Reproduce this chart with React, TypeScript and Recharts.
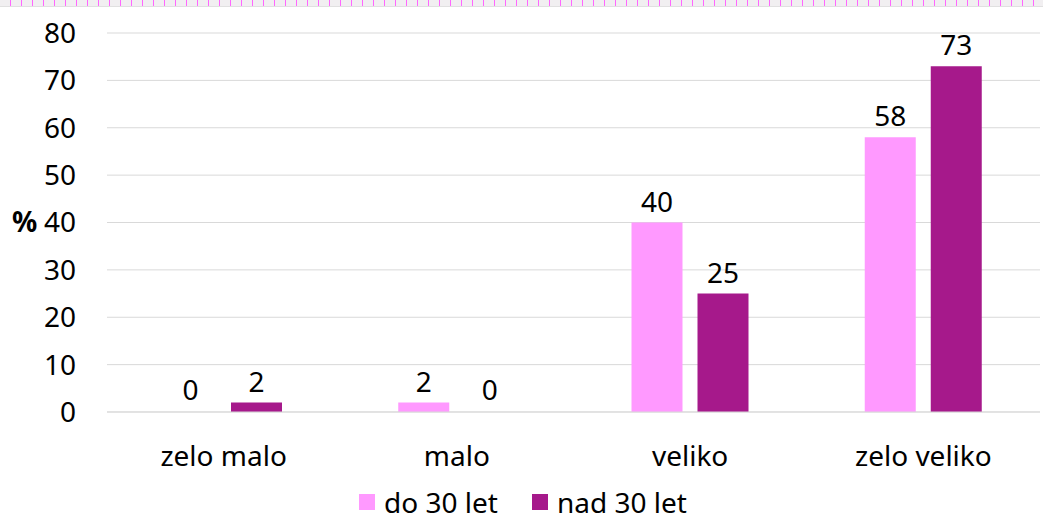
import React from "react";
import {
  BarChart,
  Bar,
  XAxis,
  YAxis,
  CartesianGrid,
  Legend,
  LabelList,
  Rectangle
} from "recharts";

const categories = ["zelo malo", "malo", "veliko", "zelo veliko"];
const do30 = [0, 2, 40, 58];
const nad30 = [2, 0, 25, 73];
const yTicks = [0, 10, 20, 30, 40, 50, 60, 70, 80];

const PINK = "#FF99FF";
const PURPLE = "#A6198B";
const FONT = "'Noto Sans', sans-serif";
const FS = 28;

const data = categories.map((c, i) => ({ name: c, do30: do30[i], nad30: nad30[i] }));

// zero values still need a label, so bars get a minimum size but are not painted when 0
const BarShape = (props: any) => {
  if (!props.value) return null;
  return <Rectangle {...props} />;
};

const LegendContent = () => (
  <div
    style={{
      display: "flex",
      justifyContent: "center",
      fontFamily: FONT,
      fontSize: FS,
      lineHeight: "30px",
      color: "#000",
      marginLeft: 6,
      paddingTop: 12
    }}
  >
    {[
      { label: "do 30 let", color: PINK },
      { label: "nad 30 let", color: PURPLE }
    ].map((it) => (
      <div key={it.label} style={{ display: "flex", alignItems: "center", margin: "0 17px" }}>
        <span style={{ width: 16, height: 16, background: it.color, display: "inline-block", marginRight: 9 }} />
        <span>{it.label}</span>
      </div>
    ))}
  </div>
);

export default function App() {
  return (
    <div style={{ position: "absolute", left: 0, top: 0, width: 1043, height: 519, background: "#fff" }}>
      {/* ruler strip along the top */}
      <div
        style={{
          position: "absolute",
          left: 0,
          top: 0,
          width: 1043,
          height: 6,
          background:
            "repeating-linear-gradient(90deg, #f1eff1 0px, #f1eff1 10px, #ff66ff 10px, #ff66ff 11px)",
          borderBottom: "1px solid #e0e0e0"
        }}
      />
      <BarChart
        width={1043}
        height={519}
        data={data}
        margin={{ top: 33, right: 3, left: 0, bottom: 0 }}
        barGap={15}
        style={{ fontFamily: FONT }}
      >
        <CartesianGrid vertical={false} stroke="#d9d9d9" />
        <XAxis
          dataKey="name"
          height={63}
          tickLine={false}
          axisLine={{ stroke: "#d9d9d9" }}
          tickMargin={28}
          tick={{ fontSize: FS, fill: "#000", fontFamily: FONT }}
        />
        <YAxis
          width={107}
          domain={[0, 80]}
          ticks={yTicks}
          interval={0}
          tickLine={false}
          axisLine={false}
          tickSize={0}
          tickMargin={31}
          tick={{ fontSize: FS, fill: "#000", fontFamily: FONT }}
          label={{ value: "%", position: "insideLeft", offset: 12, fontSize: FS, fontWeight: "bold", fill: "#000" }}
        />
        <Legend verticalAlign="bottom" height={44} content={<LegendContent />} />
        <Bar dataKey="do30" fill={PINK} barSize={51} minPointSize={1} shape={BarShape} isAnimationActive={false}>
          <LabelList dataKey="do30" position="top" offset={11} style={{ fontSize: FS, fill: "#000", fontFamily: FONT }} />
        </Bar>
        <Bar dataKey="nad30" fill={PURPLE} barSize={51} minPointSize={1} shape={BarShape} isAnimationActive={false}>
          <LabelList dataKey="nad30" position="top" offset={11} style={{ fontSize: FS, fill: "#000", fontFamily: FONT }} />
        </Bar>
      </BarChart>
    </div>
  );
}
